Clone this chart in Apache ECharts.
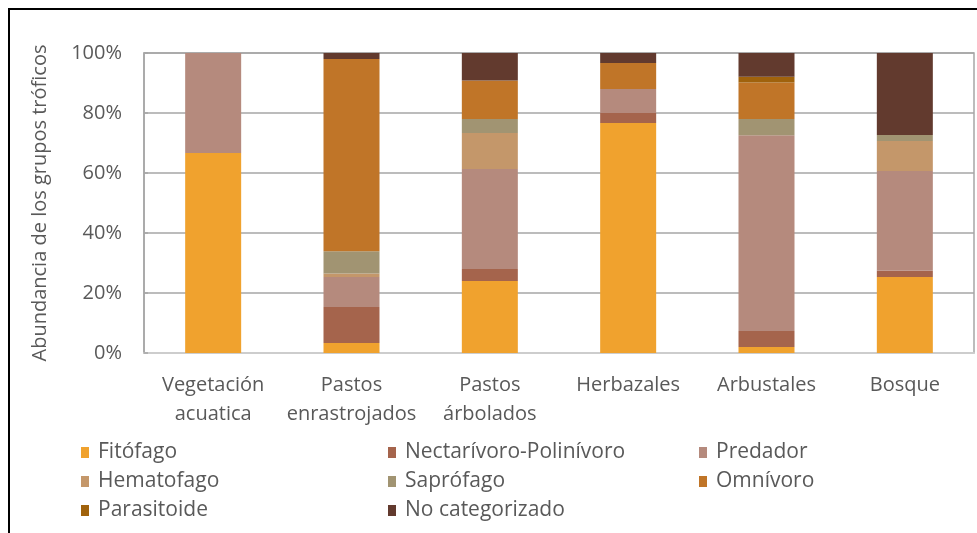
<!DOCTYPE html>
<html>
<head>
<meta charset="utf-8">
<script src="https://cdn.jsdelivr.net/npm/echarts@6/dist/echarts.min.js"></script>
<style>
  html, body { margin: 0; padding: 0; background: #fff; }
  #chart { width: 977px; height: 533px; }
</style>
</head>
<body>
<div id="chart"></div>
<script>
// Habitat types along the x axis
const categories = ['Vegetación\nacuatica', 'Pastos\nenrastrojados', 'Pastos\nárbolados', 'Herbazales', 'Arbustales', 'Bosque'];

// Percentage of each trophic group per habitat
const fitofago      = [66.7, 3.3, 24.0, 76.7, 2.0, 25.3];
const nectarivoro   = [0, 12.0, 4.0, 3.3, 5.3, 2.1];
const predador      = [33.3, 10.0, 33.3, 8.0, 65.3, 33.3];
const hematofago    = [0, 1.2, 12.0, 0, 0, 10.0];
const saprofago     = [0, 7.4, 4.7, 0, 5.4, 2.0];
const omnivoro      = [0, 64.1, 12.8, 8.7, 12.2, 0];
const parasitoide   = [0, 0, 0, 0, 1.9, 0];
const noCategorizado = [0, 2.0, 9.2, 3.3, 7.9, 27.3];

const yTicks = [0, 20, 40, 60, 80, 100];

const groups = [
  { name: 'Fitófago', data: fitofago, color: '#F0A22E' },
  { name: 'Nectarívoro-Polinívoro', data: nectarivoro, color: '#A5644C' },
  { name: 'Predador', data: predador, color: '#B58A7D' },
  { name: 'Hematofago', data: hematofago, color: '#C4976A' },
  { name: 'Saprófago', data: saprofago, color: '#A19472' },
  { name: 'Omnívoro', data: omnivoro, color: '#C07528' },
  { name: 'Parasitoide', data: parasitoide, color: '#A0620C' },
  { name: 'No categorizado', data: noCategorizado, color: '#623A2E' }
];

const font = '"Open Sans", "Noto Sans", sans-serif';
const textGray = '#595959';

const legendBase = {
  orient: 'vertical',
  top: 437,
  itemWidth: 8,
  itemHeight: 11,
  itemGap: 8,
  icon: 'rect',
  textStyle: { fontFamily: font, fontSize: 21, lineHeight: 21, color: textGray, padding: [0, 0, 0, 4] },
  selectedMode: false
};

const chart = echarts.init(document.getElementById('chart'), null, { renderer: 'canvas' });

chart.setOption({
  animation: false,
  backgroundColor: '#fff',
  grid: { left: 144, right: 3, top: 53, bottom: 180, containLabel: false, show: true, borderColor: '#A6A6A6', borderWidth: 1.5 },
  graphic: [
    {
      type: 'rect',
      shape: { x: 9, y: 9, width: 1000, height: 600 },
      style: { fill: 'none', stroke: '#000', lineWidth: 2 },
      silent: true
    }
  ],
  legend: [
    Object.assign({}, legendBase, { left: 76, data: ['Fitófago', 'Hematofago', 'Parasitoide'] }),
    Object.assign({}, legendBase, { left: 383, data: ['Nectarívoro-Polinívoro', 'Saprófago', 'No categorizado'] }),
    Object.assign({}, legendBase, { left: 694, data: ['Predador', 'Omnívoro'] })
  ],
  xAxis: {
    type: 'category',
    data: categories,
    axisLine: { show: true, lineStyle: { color: '#D9D9D9', width: 1.5 } },
    axisTick: { show: false },
    axisLabel: {
      fontFamily: font,
      fontSize: 20,
      color: textGray,
      lineHeight: 29,
      margin: 18,
      interval: 0
    }
  },
  yAxis: {
    type: 'value',
    min: yTicks[0],
    max: yTicks[yTicks.length - 1],
    interval: 20,
    name: 'Abundancia de los grupos tróficos',
    nameLocation: 'middle',
    nameGap: 94,
    nameTextStyle: { fontFamily: font, fontSize: 20, color: textGray },
    axisLine: { show: true, lineStyle: { color: '#A6A6A6', width: 1.5 } },
    axisTick: { show: true, inside: true, length: 4, lineStyle: { color: '#A6A6A6', width: 1.5 } },
    axisLabel: {
      fontFamily: font,
      fontSize: 20,
      color: textGray,
      margin: 22,
      formatter: v => v + '%'
    },
    splitLine: { show: true, lineStyle: { color: '#A6A6A6', width: 1.5 } }
  },
  series: groups.map(g => ({
    name: g.name,
    type: 'bar',
    stack: 'total',
    barWidth: 56,
    data: g.data,
    itemStyle: { color: g.color },
    emphasis: { disabled: true }
  }))
});
</script>
</body>
</html>
